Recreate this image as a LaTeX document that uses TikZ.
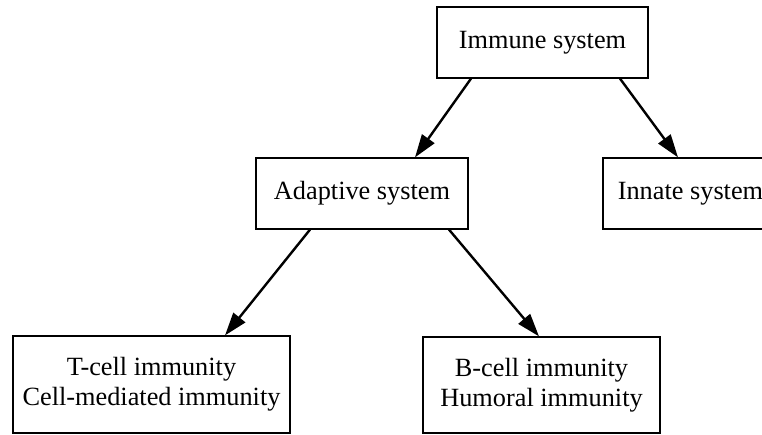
\documentclass[tikz,border=0pt]{standalone}
\usepackage{fontspec}
\setmainfont{Liberation Serif}
\usetikzlibrary{arrows.meta}
\begin{document}
\begin{tikzpicture}[x=1pt,y=-1pt,
  box/.style={draw=black, line width=1.2pt, rectangle, inner sep=0pt,
    align=center, font=\fontsize{26.3}{30}\selectfont},
  edge/.style={draw=black, line width=2.4pt,
    -{Triangle[length=23pt 0,width=15pt 0]}}]
  \useasboundingbox (0,0) rectangle (762,434);
  % tree nodes
  \node[box, minimum width=211pt, minimum height=71pt] (imm) at (542.5,42.5) {Immune system};
  \node[box, minimum width=212pt, minimum height=71pt] (ada) at (362,193.5) {Adaptive system};
  \node[box, minimum width=175pt, minimum height=71pt] (inn) at (690.5,193.5) {Innate system};
  \node[box, minimum width=277pt, minimum height=97pt] (tc) at (151.5,384.5) {T-cell immunity\\Cell-mediated immunity};
  \node[box, minimum width=237pt, minimum height=96pt] (bc) at (541.5,385) {B-cell immunity\\Humoral immunity};
  % connectors
  \draw[edge] ([xshift=-71.5pt]imm.south) -- ([xshift=53pt]ada.north);
  \draw[edge] ([xshift=77.5pt]imm.south) -- ([xshift=-12.5pt]inn.north);
  \draw[edge] ([xshift=-52pt]ada.south) -- ([xshift=73.5pt]tc.north);
  \draw[edge] ([xshift=87pt]ada.south) -- ([xshift=-2.5pt]bc.north);
\end{tikzpicture}
\end{document}
